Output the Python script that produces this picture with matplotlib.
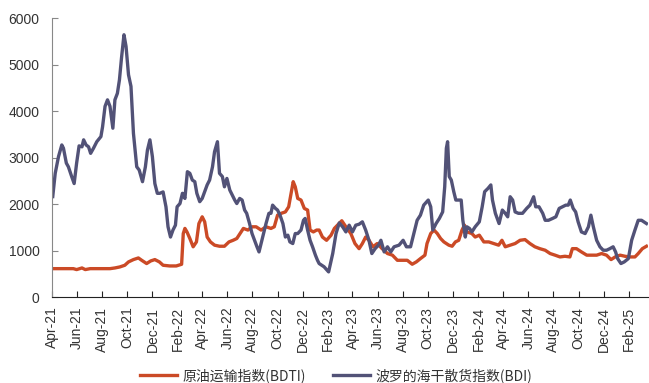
import numpy as np
import pandas as pd
import matplotlib
matplotlib.use("Agg")
import matplotlib.pyplot as plt
import matplotlib.dates as mdates

plt.rcParams['font.family'] = ['Liberation Sans Narrow', 'Liberation Sans', 'Noto Sans CJK SC', 'DejaVu Sans']

start = pd.Timestamp("2021-04-01")

# BDI: days since 2021-04-01, index value
bdi_days = [2, 8, 16, 24, 28, 35, 40, 48, 54, 60, 66, 73, 77, 83, 89, 94, 101, 109, 119, 123,
            129, 135, 141, 148, 153, 159, 164, 169, 175, 180, 186, 192, 198, 206, 212, 220, 227, 232, 238, 244,
            250, 256, 262, 270, 277, 282, 288, 294, 300, 304, 311, 317, 323, 329, 335, 341, 347, 352, 359, 365,
            371, 377, 383, 390, 395, 402, 407, 414, 419, 425, 432, 438, 444, 449, 456, 462, 468, 473, 480, 486,
            492, 498, 503, 508, 514, 520, 527, 532, 536, 543, 548, 554, 561, 567, 573, 578, 585, 591, 597, 605,
            611, 615, 621, 627, 633, 640, 645,
            649, 661, 672, 682, 690, 698, 706, 714, 722, 730, 738, 746, 754, 762, 770, 777, 785, 793, 799, 807,
            815, 823, 831, 843, 853, 861, 871, 879, 887, 895, 903, 914, 920, 925, 933, 941, 949, 954, 958, 961,
            965, 970, 976, 981, 988, 994, 998, 1004, 1008, 1014, 1020, 1028, 1038, 1045, 1051, 1059, 1066, 1070,
            1077, 1086, 1094, 1101, 1107, 1113, 1119, 1125, 1133, 1143, 1153, 1161, 1170, 1175, 1183, 1192, 1198,
            1206, 1216, 1224, 1232, 1240, 1248, 1254, 1259, 1266, 1272, 1278, 1286, 1295, 1303, 1309, 1315, 1323,
            1331, 1339, 1347, 1355, 1363, 1369, 1374, 1382, 1390, 1400, 1408, 1416, 1424, 1432, 1444]
bdi_vals = [2160, 2660, 3020, 3270, 3200, 2880, 2800, 2590, 2440, 2880, 3250, 3230, 3380, 3270, 3230, 3090, 3200, 3340, 3450, 3660,
            4100, 4240, 4100, 3630, 4240, 4380, 4670, 5140, 5640, 5390, 4780, 4530, 3520, 2800, 2730, 2480, 2800, 3160, 3380, 3020,
            2440, 2230, 2230, 2260, 1940, 1510, 1290, 1440, 1545, 1940, 2010, 2230, 2120, 2695, 2660, 2515, 2480, 2230, 2050, 2120,
            2265, 2410, 2515, 2800, 3125, 3340, 2660, 2590, 2370, 2550, 2300, 2190, 2085, 2010, 2120, 2085, 1870, 1800, 1580, 1365,
            1220, 1080, 970, 1150, 1365, 1580, 1800, 1800, 1976, 1905, 1870, 1760, 1580, 1290, 1330, 1185, 1150, 1365, 1365, 1440,
            1650, 1690, 1440, 1220, 1080, 900, 790,
            720, 650, 540, 935, 1365, 1595, 1510, 1400, 1545, 1400, 1545, 1565, 1617, 1440, 1220, 935, 1040, 1115, 1220, 970,
            1080, 970, 1080, 1115, 1220, 1080, 1080, 1365, 1650, 1760, 1976, 2085, 1940, 1440, 1580, 1690, 1830, 2370, 3200, 3340,
            2590, 2515, 2265, 2085, 2085, 2085, 1650, 1290, 1510, 1475, 1400, 1510, 1617, 1940, 2265, 2335, 2410, 2085,
            1800, 1580, 1870, 1800, 1725, 2156, 2085, 1830, 1800, 1800, 1905, 1976, 2156, 1940, 1940, 1800, 1650,
            1650, 1690, 1725, 1905, 1940, 1976, 1976, 2085, 1905, 1830, 1617, 1400, 1365, 1510, 1760, 1510, 1220,
            1080, 1006, 1006, 1040, 1080, 970, 826, 720, 755, 826, 1220, 1440, 1650, 1650, 1580]

# BDTI
bdti_days = [2, 52, 60, 73, 81, 93, 141, 153, 165, 177, 186, 198, 210, 218, 230, 240, 250, 261, 270, 286,
             302, 315, 319, 323, 328, 335, 343, 351, 357, 365, 371, 377, 385, 395, 407, 419, 430, 440, 449, 457,
             465, 476, 486, 496, 508, 520, 532, 540, 548, 557, 567, 575, 581, 586, 591, 597, 605, 613, 621, 627,
             635, 643,
             649, 657, 667, 678, 686, 696, 704, 714, 726, 736, 746, 754, 762, 770, 780, 790, 802, 815, 827, 839,
             851, 863, 875, 885, 895, 906, 911, 920, 928, 936, 944, 952, 964, 972, 980, 988, 996, 1002, 1008, 1020,
             1028, 1038, 1049, 1061, 1073, 1085, 1093, 1101, 1113, 1125, 1137, 1149, 1161, 1173, 1185, 1198, 1210,
             1222, 1234, 1246, 1258, 1264, 1274, 1286, 1299, 1311, 1323, 1335, 1347, 1358, 1368, 1380, 1392, 1404,
             1416, 1424, 1434, 1444]
bdti_vals = [610, 610, 590, 625, 590, 610, 610, 625, 647, 683, 755, 805, 840, 790, 720, 776, 805, 755, 683, 668,
             668, 704, 1365, 1475, 1400, 1258, 1080, 1185, 1580, 1725, 1617, 1290, 1185, 1115, 1092, 1092, 1185, 1220, 1258, 1365,
             1475, 1440, 1510, 1510, 1440, 1510, 1475, 1510, 1760, 1800, 1830, 1940, 2230, 2480, 2370, 2120, 2085, 1905, 1870, 1440,
             1400, 1440,
             1440, 1290, 1220, 1330, 1475, 1565, 1640, 1510, 1365, 1150, 1040, 1150, 1290, 1220, 1080, 1150, 1040, 935, 900, 790,
             790, 790, 705, 755, 826, 900, 1150, 1365, 1440, 1365, 1258, 1185, 1115, 1092, 1185, 1220, 1440, 1545, 1400, 1365,
             1290, 1330, 1185, 1185, 1150, 1115, 1220, 1080, 1115, 1150, 1220, 1235, 1150, 1080, 1040, 1006, 935,
             900, 862, 876, 862, 1040, 1040, 970, 900, 900, 900, 935, 900, 805, 862, 900, 876, 862,
             862, 935, 1040, 1092]

bdi_dates = start + pd.to_timedelta(bdi_days, unit="D")
bdti_dates = start + pd.to_timedelta(bdti_days, unit="D")

fig = plt.figure(figsize=(6.49, 3.83), dpi=100)
ax = fig.add_axes([0.080, 0.2245, 0.918, 0.7285])

ax.plot(bdti_dates, bdti_vals, color="#CB4A26", lw=2.4, label="原油运输指数(BDTI)")
ax.plot(bdi_dates, bdi_vals, color="#525277", lw=2.4, label="波罗的海干散货指数(BDI)")

ax.set_ylim(0, 6000)
ax.set_yticks(range(0, 6001, 1000))
ax.set_xlim(start, start + pd.Timedelta(days=1447))
ax.xaxis.set_major_locator(mdates.MonthLocator(bymonth=[2, 4, 6, 8, 10, 12]))
ax.xaxis.set_major_formatter(mdates.DateFormatter("%b-%y"))
plt.setp(ax.get_xticklabels(), rotation=90)

for s in ["top", "right"]:
    ax.spines[s].set_visible(False)
ax.spines["left"].set_color("#888888")
ax.spines["bottom"].set_color("#222222")
ax.tick_params(axis="both", direction="in", labelsize=10, colors="#333333")
ax.tick_params(axis="y", length=4, pad=9, color="#888888")
ax.tick_params(axis="x", length=4, pad=7, color="#222222")

fig.legend(loc="center", bbox_to_anchor=(0.518, 0.02), ncol=2, frameon=False,
           prop={"family": ["Noto Sans CJK SC", "DejaVu Sans"], "size": 10},
           handlelength=2.7, handletextpad=0.4, columnspacing=1.9, labelcolor="#333333")

fig.savefig("out.png", dpi=100)
